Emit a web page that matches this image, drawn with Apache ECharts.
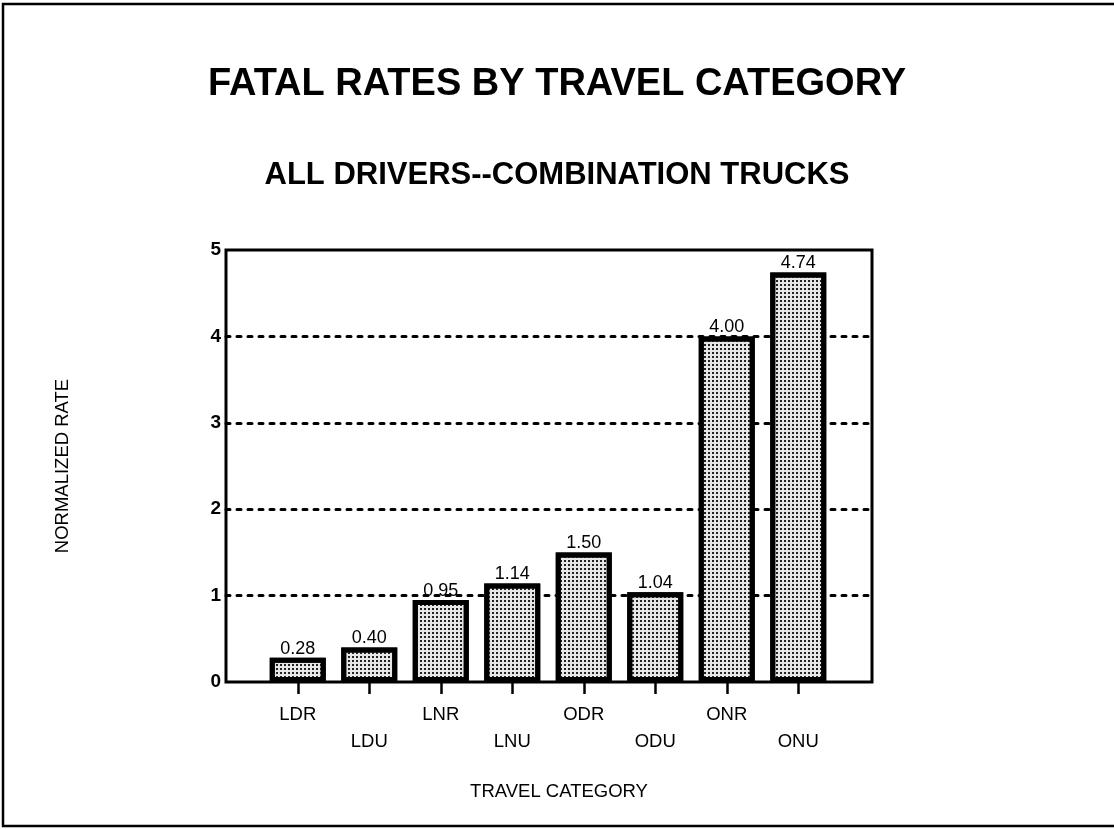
<!DOCTYPE html>
<html>
<head>
<meta charset="utf-8">
<script src="https://cdn.jsdelivr.net/npm/echarts@6/dist/echarts.min.js"></script>
<style>html,body{margin:0;padding:0;background:#fff}#c{width:1114px;height:829px}</style>
</head>
<body>
<div id="c"></div>
<script>
const titleText = 'FATAL RATES BY TRAVEL CATEGORY';
const subtitleText = 'ALL DRIVERS--COMBINATION TRUCKS';
const categories = ['LDR', 'LDU', 'LNR', 'LNU', 'ODR', 'ODU', 'ONR', 'ONU'];
const rates = [0.28, 0.40, 0.95, 1.14, 1.50, 1.04, 4.00, 4.74];
const yMin = 0, yMax = 5, yStep = 1;

const FONT = '"Liberation Sans", Arial, Helvetica, sans-serif';
const chart = echarts.init(document.getElementById('c'), null, {renderer: 'canvas'});
chart.setOption({
  backgroundColor: '#fff',
  animation: false,
  textStyle: {fontFamily: FONT, color: '#000'},
  title: [
    {text: titleText, left: 'center', top: 66, padding: 0,
     textStyle: {fontSize: 38, fontWeight: 'bold', color: '#000', fontFamily: FONT}},
    {text: subtitleText, left: 'center', top: 160, padding: 0,
     textStyle: {fontSize: 31, fontWeight: 'bold', color: '#000', fontFamily: FONT}}
  ],
  graphic: [{
    type: 'rect', silent: true,
    shape: {x: 3, y: 4, width: 1125, height: 822},
    style: {fill: 'none', stroke: '#000', lineWidth: 2.5}
  }],
  grid: [
    {left: 226, right: 242, top: 250, bottom: 147, show: true, borderColor: '#000', borderWidth: 3, backgroundColor: 'transparent'},
    {left: 262, right: 280, top: 250, bottom: 147}
  ],
  xAxis: [
    {gridIndex: 0, type: 'value', min: 0, max: 1, show: false},
    {gridIndex: 1, type: 'category', data: categories,
     axisLine: {show: false},
     axisTick: {show: true, alignWithLabel: true, length: 12, lineStyle: {color: '#000', width: 2.5}},
     axisLabel: {interval: 0, margin: 19, fontSize: 18.5, lineHeight: 27, color: '#000', fontFamily: FONT,
       formatter: function (v, i) { return i % 2 ? '\n' + v : v; }},
     name: 'TRAVEL CATEGORY', nameLocation: 'middle', nameGap: 100,
     nameTextStyle: {fontSize: 18.5, color: '#000', fontFamily: FONT, padding: [0, 0, 0, 22]}}
  ],
  yAxis: [
    {gridIndex: 0, type: 'value', min: yMin, max: yMax, interval: yStep,
     axisLine: {show: false}, axisTick: {show: false},
     axisLabel: {fontSize: 19, fontWeight: 'bold', color: '#000', margin: 5, fontFamily: FONT},
     splitLine: {show: true, showMinLine: false, showMaxLine: false,
       lineStyle: {color: '#000', width: 3, type: [4, 7], cap: 'round'}},
     name: 'NORMALIZED RATE', nameLocation: 'middle', nameGap: 154, nameRotate: 90,
     nameTextStyle: {fontSize: 18.5, color: '#000', fontFamily: FONT}},
    {gridIndex: 1, type: 'value', min: yMin, max: yMax, interval: yStep, show: false}
  ],
  series: [{
    type: 'bar', xAxisIndex: 1, yAxisIndex: 1, data: rates, barWidth: 56,
    itemStyle: {
      color: '#e6e6e6', borderColor: '#000', borderWidth: 5,
      decal: {symbol: 'rect', symbolSize: 1, dashArrayX: [2, 2], dashArrayY: [2, 2], color: '#222', rotation: 0}
    },
    label: {show: true, position: 'top', distance: 0, fontSize: 18, color: '#000', fontFamily: FONT,
      formatter: function (p) { return p.value.toFixed(2); }}
  }]
});
</script>
</body>
</html>
